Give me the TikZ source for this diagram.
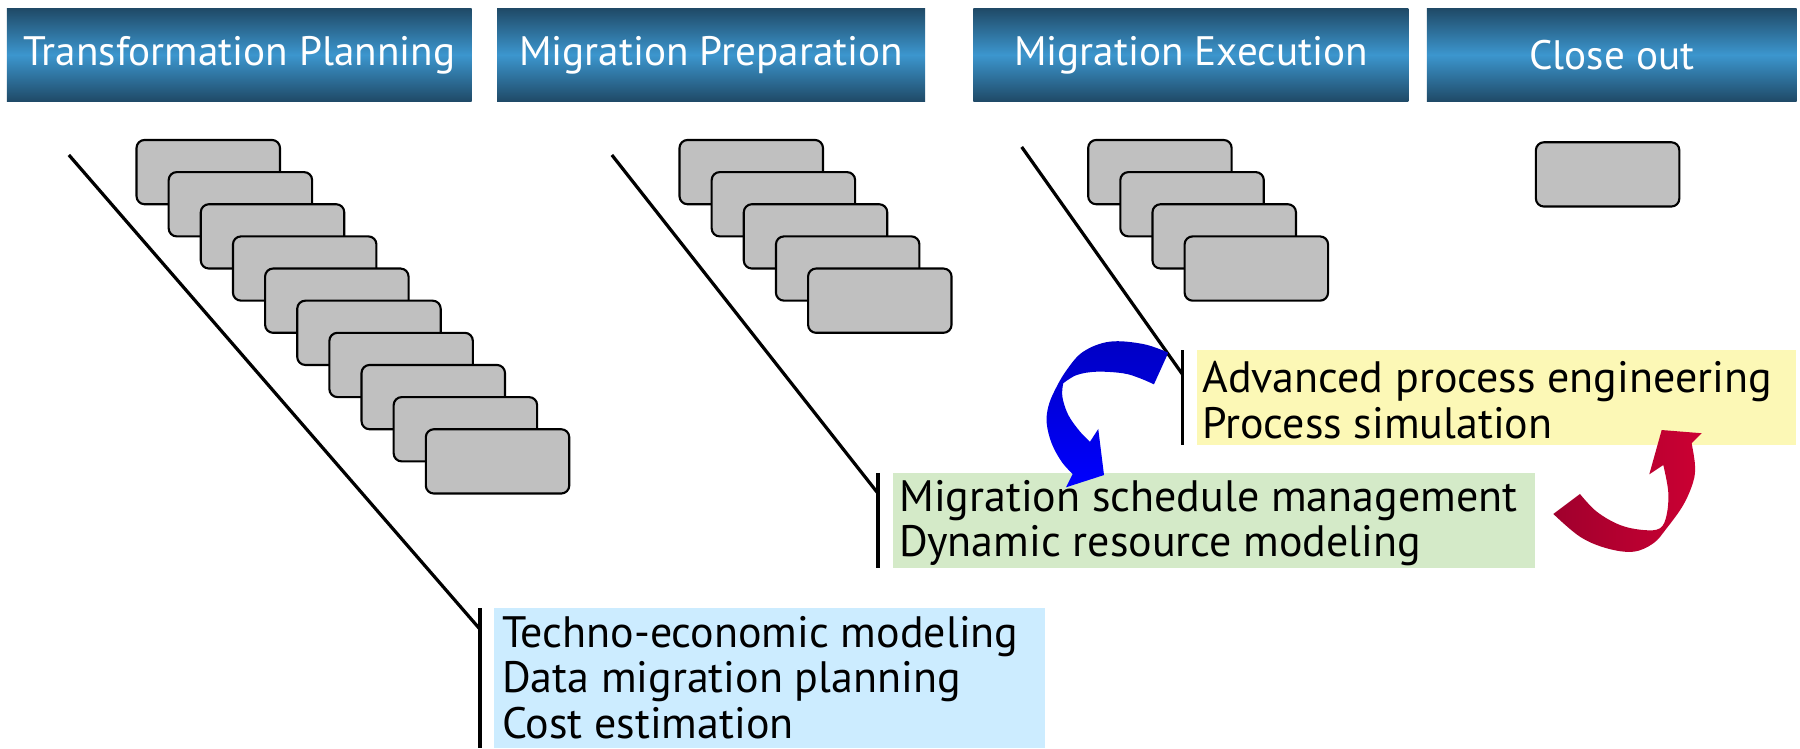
\documentclass[tikz,border=0pt]{standalone}
\usepackage{fontspec}
\setmainfont{PT Sans}

\definecolor{hdrdark}{HTML}{1F4966}
\definecolor{hdrlight}{HTML}{3C96CE}
\definecolor{boxgray}{HTML}{C0C0C0}
\definecolor{tpblue}{HTML}{CCECFF}
\definecolor{mpgreen}{HTML}{D4EAC8}
\definecolor{meyellow}{HTML}{FCF8B6}
\definecolor{arrowblueA}{HTML}{0000C4}
\definecolor{arrowblueB}{HTML}{0000FF}
\definecolor{arrowredA}{HTML}{A0002D}
\definecolor{arrowredB}{HTML}{CC0033}

\tikzset{
  phase/.style={rectangle, inner sep=0pt, outer sep=0pt, anchor=north west,
    minimum height=1.632cm, top color=hdrdark, bottom color=hdrdark,
    middle color=hdrlight, text=white, font=\fontsize{20.4}{22}\selectfont},
  task/.style={rectangle, rounded corners=0.14cm, fill=boxgray, draw=black,
    line width=1.05pt, minimum width=2.5cm, minimum height=1.12cm,
    inner sep=0pt, anchor=north west},
  lead/.style={line width=1.6pt},
  bar/.style={line width=1.8pt},
  notebox/.style={rectangle, inner sep=0pt, outer sep=0pt, anchor=north west},
  notetext/.style={inner sep=0pt, anchor=west, align=left,
    font=\fontsize{21.8}{22.6}\selectfont}
}

\begin{document}
\begin{tikzpicture}[x=0.02cm,y=-0.02cm]
\useasboundingbox[fill=white] (0,0) rectangle (1568,652);

% phase headers
\node[phase, minimum width=8.10cm] (h1) at (6,7)    {Transformation Planning};
\node[phase, minimum width=7.46cm] (h2) at (433,7)  {Migration Preparation};
\node[phase, minimum width=7.58cm] (h3) at (848,7)  {Migration Execution};
\node[phase, minimum width=6.44cm] (h4) at (1243,7) {Close out};

% leader lines and brackets
\coordinate (l1a) at (60,135);   \coordinate (l1b) at (418,548);
\coordinate (b1a) at (418,530);  \coordinate (b1b) at (418,652);
\coordinate (l2a) at (533,135);  \coordinate (l2b) at (765,430);
\coordinate (b2a) at (765,412);  \coordinate (b2b) at (765,495);
\coordinate (l3a) at (890,128);  \coordinate (l3b) at (1030,326);
\coordinate (b3a) at (1030,305); \coordinate (b3b) at (1030,388);
\draw[lead] (l1a) -- (l1b);
\draw[lead] (l2a) -- (l2b);
\draw[lead] (l3a) -- (l3b);
\draw[bar] (b1a) -- (b1b);
\draw[bar] (b2a) -- (b2b);
\draw[bar] (b3a) -- (b3b);

% task cards
\foreach \i in {0,...,9} \node[task] (tp\i) at ({118+28*\i},{121+28*\i}) {};
\foreach \i in {0,...,4} \node[task] (mp\i) at ({591+28*\i},{121+28*\i}) {};
\foreach \i in {0,...,3} \node[task] (me\i) at ({947+28*\i},{121+28*\i}) {};
\node[task] (co0) at (1337,123) {};

% capability notes
\node[notebox, fill=tpblue, minimum width=9.6cm, minimum height=2.44cm] (n1box) at (430,530) {};
\node[notebox, fill=mpgreen, minimum width=11.18cm, minimum height=1.66cm] (n2box) at (778,412) {};
\node[notebox, fill=meyellow, minimum width=10.44cm, minimum height=1.66cm] (n3box) at (1043,305) {};
\node[notetext] (n1) at ([xshift=0.14cm,yshift=0.02cm]n1box.west)
  {Techno-economic modeling\\Data migration planning\\Cost estimation};
\node[notetext] (n2) at ([xshift=0.1cm,yshift=-0.04cm]n2box.west)
  {Migration schedule management\\Dynamic resource modeling};
\node[notetext] (n3) at ([xshift=0.08cm,yshift=-0.04cm]n3box.west)
  {Advanced process engineering\\Process simulation};

% blue curved arrow
\shade[top color=arrowblueA, bottom color=arrowblueB]
  plot[smooth, tension=0.6] coordinates {(1017.7,307.2) (995.9,299.7) (966.9,297.6) (943.7,306.3)
     (929.2,322.3) (919.0,339.7) (913.2,354.2) (911.8,368.7) (916.1,386.2) (924.8,402.2) (934.4,412.9)}
  -- (928.6,424.5) -- (961.7,413.8) -- (956.7,373.7) -- (949.5,384.8)
  -- plot[smooth, tension=0.6] coordinates {(949.5,384.8) (940.8,376.0) (930.6,361.5) (925.4,345.5) (926.2,333.9)}
  -- plot[smooth, tension=0.6] coordinates {(926.2,333.9) (937.9,326.7) (955.3,323.8) (978.5,325.2) (993.0,329.5) (1005.2,334.8)}
  -- cycle;

% red curved arrow
\shade[left color=arrowredA, right color=arrowredB]
  (1353.1,447.7)
  -- plot[smooth, tension=0.6] coordinates {(1353.1,447.7) (1376.3,467.5) (1399.6,477.6) (1422.7,480.6)
     (1440.2,473.3) (1451.8,460.2) (1466.3,439.9) (1475.0,419.6) (1476.5,405.1) (1473.6,386.2)}
  -- (1482.3,377.4) -- (1447.5,374.6) -- (1436.7,413.2) -- (1448.9,405.1)
  -- plot[smooth, tension=0.6] coordinates {(1448.9,405.1) (1453.2,428.3) (1451.8,448.6) (1446.0,460.2)
     (1431.5,461.7) (1411.1,457.3) (1390.9,445.7) (1376.3,430.3)}
  -- cycle;
\end{tikzpicture}
\end{document}
